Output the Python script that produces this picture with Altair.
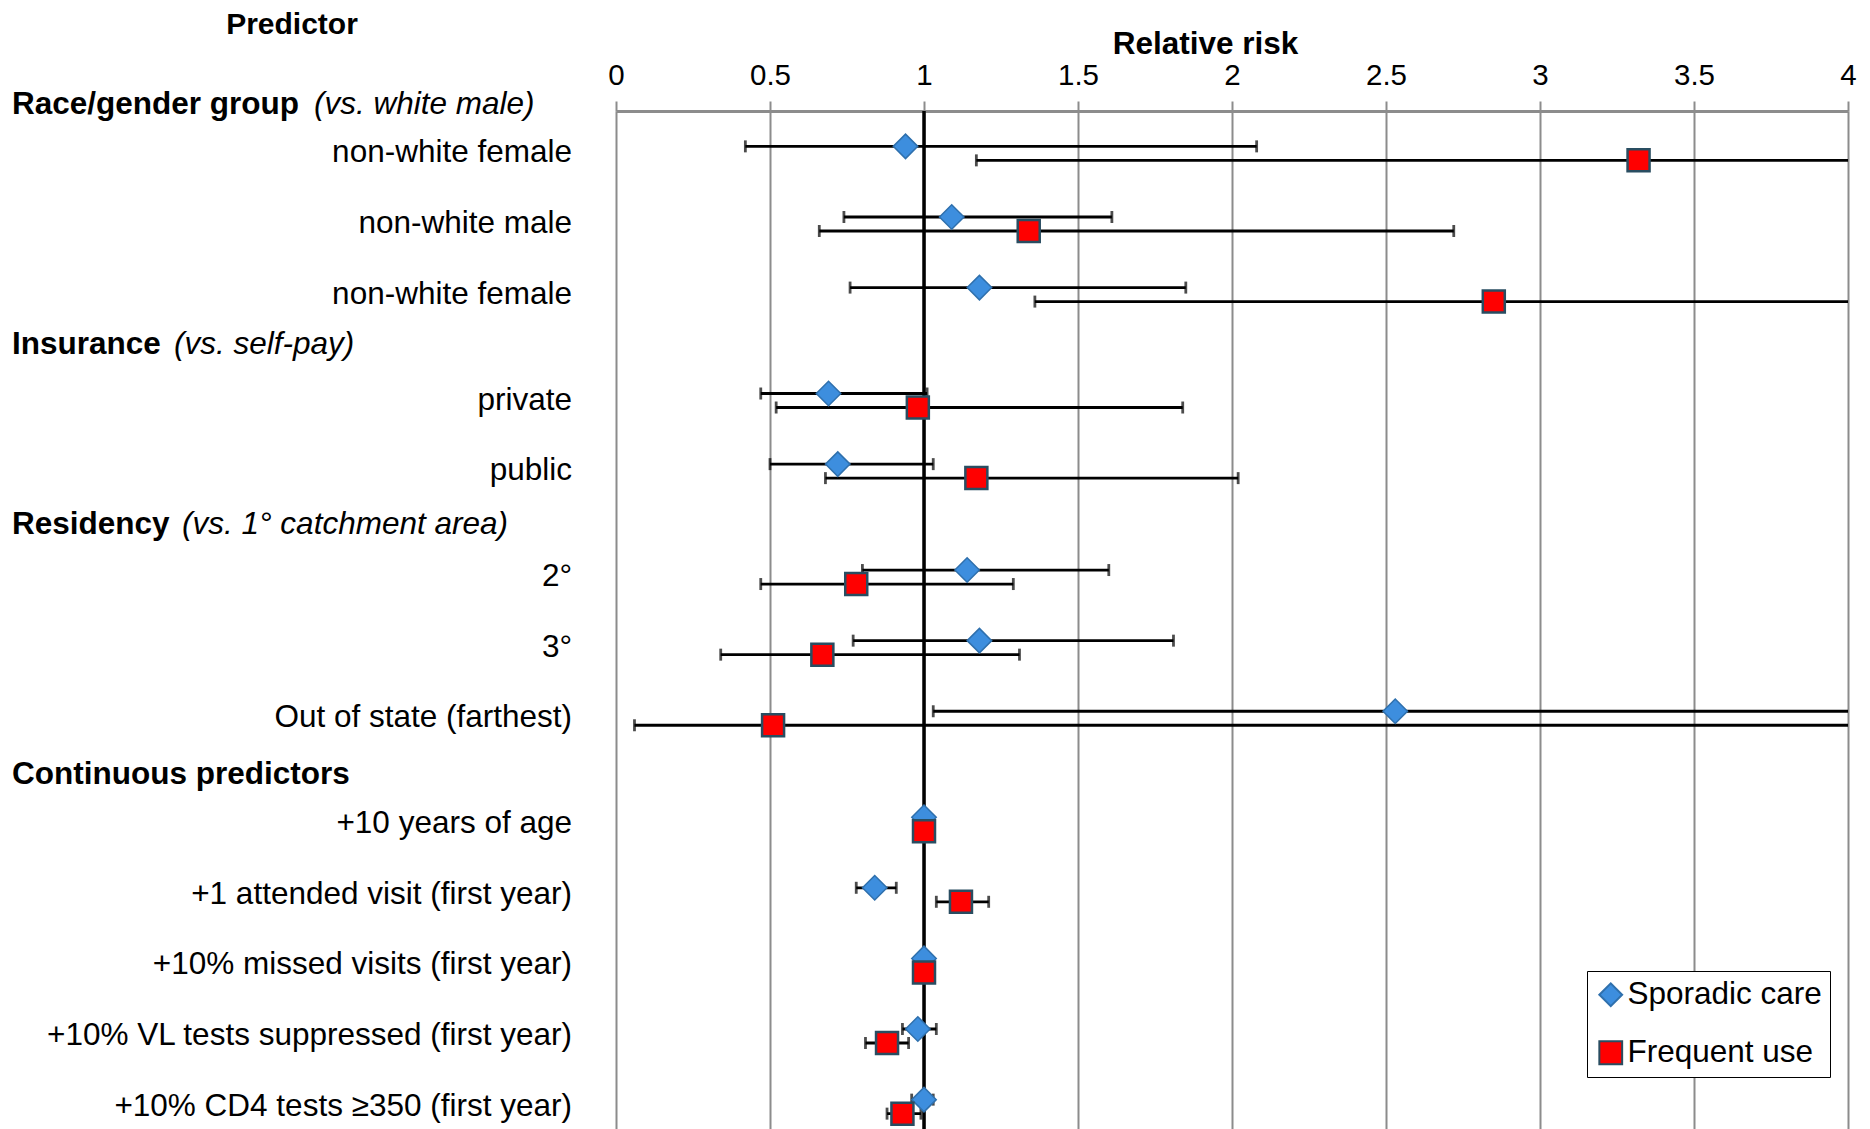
import altair as alt
import pandas as pd

# ---------------- data ----------------
predictors = [
    "non-white female", "non-white male", "non-white female",
    "private", "public",
    "2°", "3°", "Out of state (farthest)",
    "+10 years of age", "+1 attended visit (first year)",
    "+10% missed visits (first year)", "+10% VL tests suppressed (first year)",
    "+10% CD4 tests ≥350 (first year)",
]
row_pos = [0, 1, 2, 3.5, 4.5, 6, 7, 8, 9.5, 10.5, 11.5, 12.5, 13.5]

sporadic_rr = [0.94, 1.09, 1.18, 0.69, 0.72, 1.14, 1.18, 2.53, 1.00, 0.84, 1.00, 0.98, 1.00]
sporadic_lo = [0.42, 0.74, 0.76, 0.47, 0.50, 0.80, 0.77, 1.03, 0.99, 0.78, 0.99, 0.93, 0.96]
sporadic_hi = [2.08, 1.61, 1.85, 1.01, 1.03, 1.60, 1.81, 6.20, 1.01, 0.91, 1.01, 1.04, 1.03]

frequent_rr = [3.32, 1.34, 2.85, 0.98, 1.17, 0.78, 0.67, 0.51, 1.00, 1.12, 1.00, 0.88, 0.93]
frequent_lo = [1.17, 0.66, 1.36, 0.52, 0.68, 0.47, 0.34, 0.06, 0.99, 1.04, 0.99, 0.81, 0.88]
frequent_hi = [9.40, 2.72, 6.00, 1.84, 2.02, 1.29, 1.31, 4.60, 1.01, 1.21, 1.01, 0.95, 0.99]

series_names = ["Sporadic care", "Frequent use"]

header_bold = ["Race/gender group", "Insurance", "Residency", "Continuous predictors"]
header_note = ["(vs. white male)", "(vs. self-pay)", "(vs. 1° catchment area)", ""]
header_pos = [-0.68, 2.72, 5.27, 8.8]

x_ticks = [0, 0.5, 1, 1.5, 2, 2.5, 3, 3.5, 4]

# ---------------- tables ----------------
rows = []
for i, (p, pos) in enumerate(zip(predictors, row_pos)):
    rows.append(dict(predictor=p, pos=pos, series=series_names[0],
                     rr=sporadic_rr[i], lo=sporadic_lo[i], hi=sporadic_hi[i]))
    rows.append(dict(predictor=p, pos=pos, series=series_names[1],
                     rr=frequent_rr[i], lo=frequent_lo[i], hi=frequent_hi[i]))
df = pd.DataFrame(rows)
labels_df = pd.DataFrame({"predictor": predictors, "pos": row_pos})
headers_df = pd.DataFrame({"bold": header_bold, "note": header_note, "pos": header_pos})

# ---------------- style ----------------
FONT = "Liberation Sans"
GRID = "#8c8c8c"
W, H = 1232, 1038
OFF = {"Sporadic care": -7, "Frequent use": 7}
NOTE_X = [-302, -442, -434, 0]

xs = alt.Scale(domain=[0, 4], nice=False, zero=False)
ys = alt.Scale(domain=[-0.6, 14.1], reverse=True, nice=False, zero=False)
Y = alt.Y("pos:Q", scale=ys, axis=None)

x_axis = alt.Axis(
    orient="top", values=x_ticks, format="~g", title="Relative risk",
    titleFont=FONT, titleFontSize=31.5, titleFontWeight="bold", titleColor="black",
    titleX=589, titleY=-58, titleAlign="center", titleBaseline="alphabetic",
    labelFont=FONT, labelFontSize=29.5, labelColor="black", labelPadding=11,
    labelOverlap=False, labelFlush=False, labelBound=False,
    tickSize=10, tickColor=GRID, tickWidth=2,
    domainColor=GRID, domainWidth=3,
    grid=True, gridColor=GRID, gridWidth=2, gridOpacity=1,
)


def X(field):
    return alt.X(field, scale=xs, axis=x_axis, title="Relative risk")


legend = alt.Legend(title=None, orient="none", legendX=971, legendY=860,
                    strokeColor="black", padding=8, rowPadding=25,
                    labelFont=FONT, labelFontSize=31.5, labelColor="black",
                    labelLimit=500, labelOffset=1, symbolSize=520,
                    symbolStrokeWidth=2, fillColor="white")

fill_scale = alt.Scale(domain=series_names, range=["#3d8ede", "#ff0000"])
stroke_scale = alt.Scale(domain=series_names, range=["#2f70ad", "#294d61"])
shape_scale = alt.Scale(domain=series_names, range=["diamond", "square"])

layers = []

# reference line at RR = 1
ref = alt.Chart(pd.DataFrame({"x": [1]})).mark_rule(
    color="black", strokeWidth=3.5).encode(x=X("x:Q"))
layers.append(ref)

for s in series_names:
    d = df[df.series == s]
    off = OFF[s]
    layers.append(alt.Chart(d).mark_rule(color="black", strokeWidth=2.8, clip=True, yOffset=off)
                  .encode(x=X("lo:Q"), x2="hi:Q", y=Y))
    for col in ["lo", "hi"]:
        layers.append(alt.Chart(d).mark_tick(orient="vertical", color="black", size=12,
                                             thickness=2.8, clip=True, yOffset=off)
                      .encode(x=X(f"{col}:Q"), y=Y))

for s, size, sw in [("Sporadic care", 600, 1.5), ("Frequent use", 484, 2.5)]:
    d = df[df.series == s]
    layers.append(alt.Chart(d).mark_point(filled=True, opacity=1, size=size,
                                          strokeWidth=sw, strokeOpacity=1, yOffset=OFF[s])
                  .encode(x=X("rr:Q"), y=Y,
                          fill=alt.Fill("series:N", scale=fill_scale, legend=legend),
                          stroke=alt.Stroke("series:N", scale=stroke_scale, legend=legend),
                          shape=alt.Shape("series:N", scale=shape_scale, legend=legend)))

# row labels
layers.append(alt.Chart(labels_df).mark_text(align="right", baseline="middle", font=FONT,
                                             fontSize=31.5, color="black")
              .encode(x=alt.value(-44), y=Y, text="predictor:N"))

# group headers (bold part)
layers.append(alt.Chart(headers_df).mark_text(align="left", baseline="middle", font=FONT,
                                              fontSize=31.5, fontWeight="bold", color="black")
              .encode(x=alt.value(-604), y=Y, text="bold:N"))

# group headers (italic part)
for i in range(len(header_bold)):
    if not header_note[i]:
        continue
    layers.append(alt.Chart(headers_df.iloc[[i]]).mark_text(
        align="left", baseline="middle", font=FONT, fontSize=31.5, fontStyle="italic",
        color="black").encode(x=alt.value(NOTE_X[i]), y=Y, text="note:N"))

# column title
layers.append(alt.Chart(pd.DataFrame({"t": ["Predictor"]})).mark_text(
    align="center", baseline="middle", font=FONT, fontSize=30, fontWeight="bold",
    color="black").encode(x=alt.value(-324), y=alt.value(-86), text="t:N"))

chart = alt.layer(*layers).properties(
    width=W, height=H, background="white",
    autosize=alt.AutoSizeParams(type="none"),
    padding={"left": 608, "top": 103, "right": 14, "bottom": 0},
).configure_view(strokeWidth=0)

chart.save("out.html", embed_options={"renderer": "svg", "actions": False})
